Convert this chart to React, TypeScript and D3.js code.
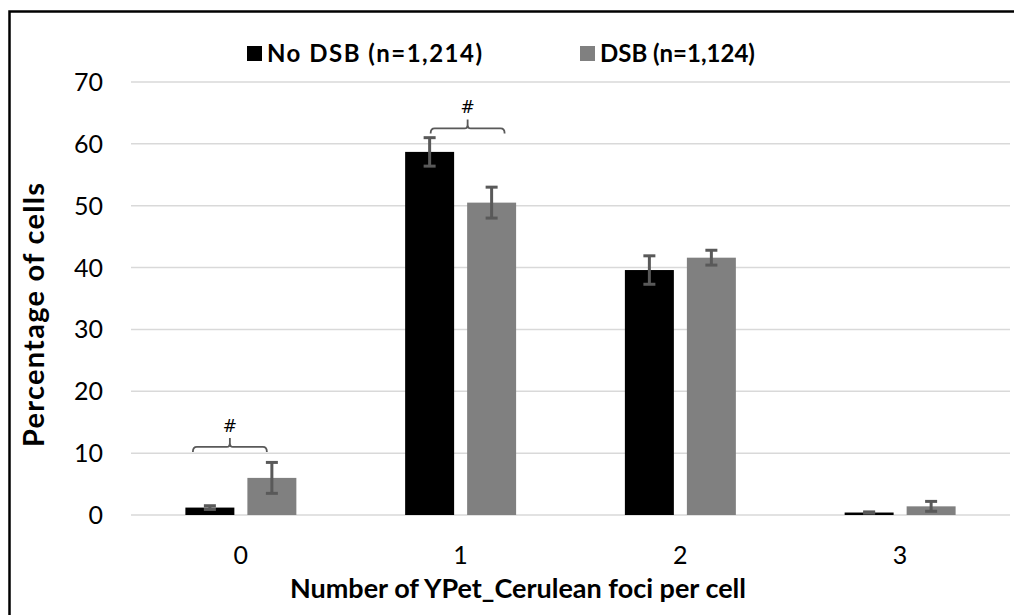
import React, { useEffect, useRef } from 'react';
import * as d3 from 'd3';

const categories = ['0', '1', '2', '3'];
const seriesNames = ['No DSB (n=1,214)', 'DSB (n=1,124)'];
const seriesColors = ['#000000', '#808080'];
const noDsbValues = [1.2, 58.7, 39.6, 0.4];
const noDsbErrors = [0.3, 2.3, 2.3, 0.1];
const dsbValues = [6.0, 50.5, 41.6, 1.4];
const dsbErrors = [2.5, 2.5, 1.2, 0.8];
const yTicks = [0, 10, 20, 30, 40, 50, 60, 70];

// significance brackets ("#") drawn over pairs
const bracketCats = ['0', '1'];
const bracketLevels = [11, 62.5];
const bracketShift = [-11, 7];

const W = 1014;
const H = 615;
const FONT = 'Lato, "Open Sans", sans-serif';

function App() {
  const ref = useRef<SVGSVGElement>(null);

  useEffect(() => {
    const svg = d3.select(ref.current);
    svg.selectAll('*').remove();

    const x0 = d3
      .scaleBand()
      .domain(categories)
      .range([131, 1010])
      .paddingInner(0.495)
      .paddingOuter(0.2475);

    const x1 = d3
      .scaleBand()
      .domain(seriesNames)
      .range([0, x0.bandwidth()])
      .paddingInner(0.21);

    const y = d3.scaleLinear().domain([0, 70]).range([515, 82]);

    // outer frame
    svg
      .append('rect')
      .attr('x', 9.5)
      .attr('y', 11.5)
      .attr('width', 1020)
      .attr('height', 620)
      .attr('fill', 'none')
      .attr('stroke', '#000')
      .attr('stroke-width', 2.5);

    // gridlines
    svg
      .append('g')
      .selectAll('line')
      .data(yTicks)
      .enter()
      .append('line')
      .attr('x1', 131)
      .attr('x2', 1010)
      .attr('y1', d => y(d))
      .attr('y2', d => y(d))
      .attr('stroke', '#d9d9d9')
      .attr('stroke-width', 1.5);

    // y tick labels
    svg
      .append('g')
      .selectAll('text')
      .data(yTicks)
      .enter()
      .append('text')
      .attr('x', 103)
      .attr('y', d => y(d))
      .attr('dy', '0.36em')
      .attr('text-anchor', 'end')
      .style('font-family', FONT)
      .style('font-size', '25px')
      .style('fill', '#000')
      .text(d => d);

    // x tick labels
    svg
      .append('g')
      .selectAll('text')
      .data(categories)
      .enter()
      .append('text')
      .attr('x', d => (x0(d) as number) + x0.bandwidth() / 2)
      .attr('y', 564)
      .attr('text-anchor', 'middle')
      .style('font-family', FONT)
      .style('font-size', '25px')
      .style('fill', '#000')
      .text(d => d);

    const series = [
      { name: seriesNames[0], values: noDsbValues, errors: noDsbErrors, color: seriesColors[0] },
      { name: seriesNames[1], values: dsbValues, errors: dsbErrors, color: seriesColors[1] }
    ];

    series.forEach(s => {
      const g = svg.append('g');
      const rows = categories.map((c, i) => ({ c, v: s.values[i], e: s.errors[i] }));
      const cx = (d: { c: string }) => (x0(d.c) as number) + (x1(s.name) as number);

      g.selectAll('rect')
        .data(rows)
        .enter()
        .append('rect')
        .attr('x', d => cx(d))
        .attr('y', d => y(d.v))
        .attr('width', x1.bandwidth())
        .attr('height', d => y(0) - y(d.v))
        .attr('fill', s.color);

      // error bars
      const eb = g.selectAll('g.err').data(rows).enter().append('g');
      const mid = (d: { c: string }) => cx(d) + x1.bandwidth() / 2;
      eb.append('line')
        .attr('x1', mid)
        .attr('x2', mid)
        .attr('y1', d => y(d.v - d.e))
        .attr('y2', d => y(d.v + d.e))
        .attr('stroke', '#595959')
        .attr('stroke-width', 3);
      [1, -1].forEach(sign => {
        eb.append('line')
          .attr('x1', d => mid(d) - 6)
          .attr('x2', d => mid(d) + 6)
          .attr('y1', d => y(d.v + sign * d.e))
          .attr('y2', d => y(d.v + sign * d.e))
          .attr('stroke', '#595959')
          .attr('stroke-width', 3);
      });
    });

    // brackets
    bracketCats.forEach((c, i) => {
      const a = (x0(c) as number) + (x1(seriesNames[0]) as number) + x1.bandwidth() / 2 + bracketShift[i] - 6;
      const b = (x0(c) as number) + (x1(seriesNames[1]) as number) + x1.bandwidth() / 2 + bracketShift[i] + 6;
      const by = y(bracketLevels[i]);
      const m = (a + b) / 2;
      const path = d3.path();
      path.moveTo(a, by + 5);
      path.quadraticCurveTo(a, by, a + 4, by);
      path.lineTo(m - 3, by);
      path.quadraticCurveTo(m, by, m, by - 4);
      path.lineTo(m, by - 9);
      path.moveTo(m, by - 4);
      path.quadraticCurveTo(m, by, m + 3, by);
      path.lineTo(b - 4, by);
      path.quadraticCurveTo(b, by, b, by + 5);
      svg
        .append('path')
        .attr('d', path.toString())
        .attr('fill', 'none')
        .attr('stroke', '#595959')
        .attr('stroke-width', 1.8);
      svg
        .append('text')
        .attr('x', m)
        .attr('y', by - 15)
        .attr('text-anchor', 'middle')
        .style('font-family', '"DejaVu Sans", sans-serif')
        .style('font-size', '17px')
        .style('fill', '#000')
        .text('#');
    });

    // legend
    const legendX = [247, 580];
    seriesNames.forEach((n, i) => {
      svg
        .append('rect')
        .attr('x', legendX[i])
        .attr('y', 46)
        .attr('width', 15)
        .attr('height', 15)
        .attr('fill', seriesColors[i]);
      const t = svg
        .append('text')
        .attr('x', legendX[i] + 20)
        .attr('y', 62)
        .style('font-family', FONT)
        .style('font-size', '24px')
        .style('font-weight', 'bold')
        .style('fill', '#000')
        .text(n);
      if (i === 0) t.attr('textLength', 215).attr('lengthAdjust', 'spacing');
    });

    // axis titles
    svg
      .append('text')
      .attr('x', 518)
      .attr('y', 598)
      .attr('text-anchor', 'middle')
      .style('font-family', FONT)
      .style('font-size', '27px')
      .style('font-weight', 'bold')
      .style('fill', '#000')
      .text('Number of YPet_Cerulean foci per cell');

    svg
      .append('text')
      .attr('transform', 'translate(44, 315) rotate(-90)')
      .attr('text-anchor', 'middle')
      .attr('textLength', 264)
      .attr('lengthAdjust', 'spacing')
      .style('font-family', FONT)
      .style('font-size', '29px')
      .style('font-weight', 'bold')
      .style('fill', '#000')
      .text('Percentage of cells');
  }, []);

  return (
    <svg
      ref={ref}
      width={W}
      height={H}
      style={{ position: 'absolute', left: 0, top: 0, background: '#fff' }}
    />
  );
}

export default App;
